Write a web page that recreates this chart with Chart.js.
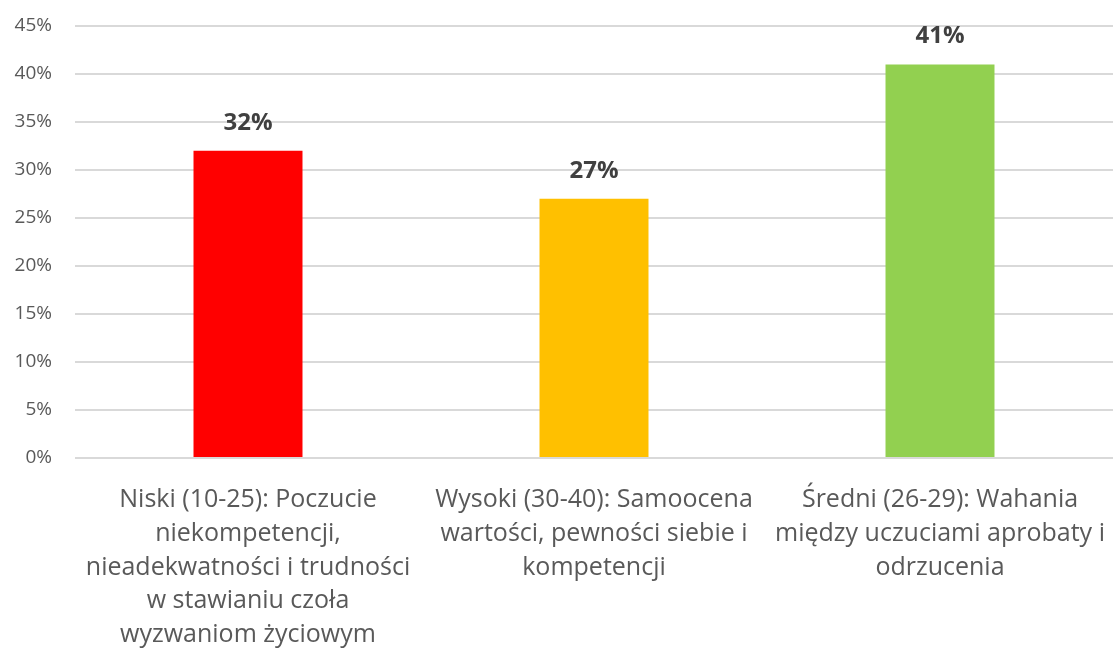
<!DOCTYPE html>
<html>
<head>
<meta charset="utf-8">
<script src="https://cdn.jsdelivr.net/npm/chart.js@4/dist/chart.umd.min.js"></script>
<style>
  html, body { margin: 0; padding: 0; background: #fff; }
  #wrap { width: 1113px; height: 650px; }
</style>
</head>
<body>
<div id="wrap"><canvas id="chart" width="1113" height="650"></canvas></div>
<script>
const categories = [
  ['Niski (10-25): Poczucie', 'niekompetencji,', 'nieadekwatności i trudności', 'w stawianiu czoła', 'wyzwaniom życiowym'],
  ['Wysoki (30-40): Samoocena', 'wartości, pewności siebie i', 'kompetencji'],
  ['Średni (26-29): Wahania', 'między uczuciami aprobaty i', 'odrzucenia']
];
const values = [32, 27, 41];
const barColors = ['#ff0000', '#ffc000', '#92d050'];
const yTicks = [0, 5, 10, 15, 20, 25, 30, 35, 40, 45];

const fontFamily = '"Open Sans", "Noto Sans", sans-serif';

// napisy nad słupkami
const valueLabels = {
  id: 'valueLabels',
  afterDatasetsDraw(chart) {
    const ctx = chart.ctx;
    const meta = chart.getDatasetMeta(0);
    ctx.save();
    ctx.font = 'bold 24px ' + fontFamily;
    ctx.fillStyle = '#404040';
    ctx.textAlign = 'center';
    ctx.textBaseline = 'middle';
    meta.data.forEach((bar, i) => {
      ctx.fillText(values[i] + '%', bar.x, bar.y - 28);
    });
    ctx.restore();
  }
};

const ctx = document.getElementById('chart').getContext('2d');
new Chart(ctx, {
  type: 'bar',
  data: {
    labels: categories,
    datasets: [{
      data: values,
      backgroundColor: barColors,
      borderWidth: 0,
      categoryPercentage: 1,
      barPercentage: 0.315
    }]
  },
  options: {
    responsive: false,
    animation: false,
    layout: { padding: { top: 26, right: 0, left: 0, bottom: 0 } },
    plugins: {
      legend: { display: false },
      tooltip: { enabled: false }
    },
    scales: {
      x: {
        grid: { display: false },
        border: { display: false },
        ticks: {
          color: '#595959',
          font: { family: fontFamily, size: 25, lineHeight: 1.35 },
          maxRotation: 0,
          autoSkip: false,
          padding: 17
        },
        afterFit(scale) {
          scale.height = 192;
          scale.paddingLeft = 0;
          scale.paddingRight = 0;
        }
      },
      y: {
        min: 0,
        max: 45,
        afterBuildTicks(scale) { scale.ticks = yTicks.map(v => ({ value: v })); },
        grid: { color: '#d9d9d9', lineWidth: 2, drawTicks: false },
        border: { display: false },
        ticks: {
          color: '#595959',
          font: { family: fontFamily, size: 19 },
          padding: 23,
          callback: v => v + '%'
        },
        afterFit(scale) {
          scale.width = 75;
          scale.paddingTop = 0;
          scale.paddingBottom = 0;
        }
      }
    }
  },
  plugins: [valueLabels]
});
</script>
</body>
</html>
